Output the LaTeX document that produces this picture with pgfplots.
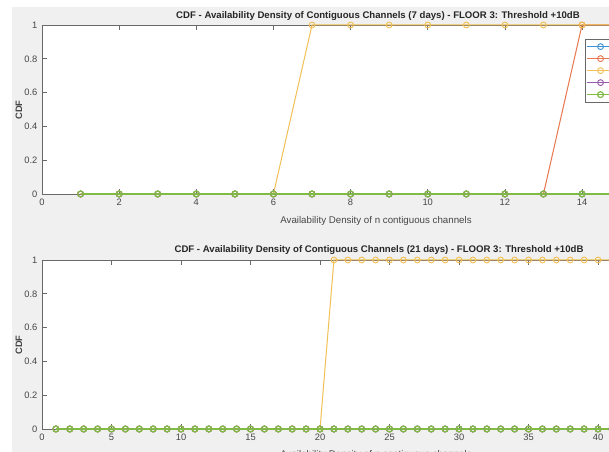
\documentclass[border=0pt]{standalone}
\usepackage{pgfplots}
\usepackage{pgfplotstable}
\pgfplotsset{compat=1.18}
\usepackage{fontspec}
\setmainfont{Liberation Sans}
\definecolor{mblue}{RGB}{60,145,215}
\definecolor{morange}{RGB}{232,118,78}
\definecolor{myellow}{RGB}{242,192,85}
\definecolor{mpurple}{RGB}{150,90,170}
\definecolor{mgreen}{RGB}{128,188,68}
\definecolor{figbg}{RGB}{240,240,240}
\definecolor{axcol}{RGB}{105,105,105}
\definecolor{txtcol}{RGB}{70,70,70}

% 7 days: x, blue, orange, yellow, purple, green
\pgfplotstableread{
x  b o y p g
1  0 0 0 0 0
2  0 0 0 0 0
3  0 0 0 0 0
4  0 0 0 0 0
5  0 0 0 0 0
6  0 0 0 0 0
7  0 0 1 0 0
8  0 0 1 0 0
9  0 0 1 0 0
10 0 0 1 0 0
11 0 0 1 0 0
12 0 0 1 0 0
13 0 0 1 0 0
14 0 1 1 0 0
15 0 1 1 0 0
16 0 1 1 0 0
17 0 1 1 0 0
}\weekA

% 21 days
\pgfplotstableread{
x  b o y p g
1  0 0 0 0 0
2  0 0 0 0 0
3  0 0 0 0 0
4  0 0 0 0 0
5  0 0 0 0 0
6  0 0 0 0 0
7  0 0 0 0 0
8  0 0 0 0 0
9  0 0 0 0 0
10 0 0 0 0 0
11 0 0 0 0 0
12 0 0 0 0 0
13 0 0 0 0 0
14 0 0 0 0 0
15 0 0 0 0 0
16 0 0 0 0 0
17 0 0 0 0 0
18 0 0 0 0 0
19 0 0 0 0 0
20 0 0 0 0 0
21 0 0 1 0 0
22 0 0 1 0 0
23 0 0 1 0 0
24 0 0 1 0 0
25 0 0 1 0 0
26 0 0 1 0 0
27 0 0 1 0 0
28 0 0 1 0 0
29 0 0 1 0 0
30 0 0 1 0 0
31 0 0 1 0 0
32 0 0 1 0 0
33 0 0 1 0 0
34 0 0 1 0 0
35 0 0 1 0 0
36 0 0 1 0 0
37 0 0 1 0 0
38 0 0 1 0 0
39 0 0 1 0 0
40 0 0 1 0 0
41 0 0 1 0 0
42 0 0 1 0 0
43 0 0 1 0 0
44 0 0 1 0 0
45 0 0 1 0 0
46 0 0 1 0 0
47 0 0 1 0 0
48 0 0 1 0 0
}\weekC

\pgfplotsset{
  mstyle/.style={
    scale only axis, width=502.5pt, height=126.75pt, anchor=south west,
    axis background/.style={fill=white},
    axis line style={draw=axcol, line width=0.6pt},
    tick align=inside, major tick length=3.6pt,
    every tick/.style={draw=axcol, line width=0.5pt},
    /pgf/number format/assume math mode=true,
    tick label style={font=\fontsize{7}{8}\selectfont, text=txtcol},
    ymin=0, ymax=1, ytick={0,0.2,0.4,0.6,0.8,1},
    every axis plot/.append style={line width=0.75pt, mark=o, mark size=2.2pt,
      mark options={line width=0.7pt}},
    clip=false,
  },
  gstyle/.style={color=mgreen, line width=0.95pt, mark options={line width=0.9pt}},
}

\begin{document}
\begin{tikzpicture}[x=0.75pt,y=0.75pt]
\useasboundingbox (0,0) rectangle (609,452);
\clip (0,0) rectangle (609,452);
\fill[white] (0,0) rectangle (609,452);
\fill[figbg] (12,0) rectangle (609,445);

\begin{axis}[mstyle, at={(31.5pt,193.5pt)}, xmin=0, xmax=17.37, xtick={0,2,...,16},
  legend style={at={(0.8104,0.917)}, anchor=north west, draw=axcol, fill=white,
    font=\fontsize{6.5}{7}\selectfont, inner sep=1pt,
    nodes={inner sep=1.5pt, text height=5pt, text depth=1pt}},
  legend image code/.code={\draw[mark repeat=2,mark phase=2] plot coordinates {(0pt,0pt)(10pt,0pt)(20pt,0pt)};},
  legend cell align=left]
\addplot[color=mblue] table[x=x,y=b] {\weekA};
\addplot[color=morange] table[x=x,y=o] {\weekA};
\addplot[color=myellow] table[x=x,y=y] {\weekA};
\addplot[color=mpurple] table[x=x,y=p] {\weekA};
\addplot[gstyle] table[x=x,y=g] {\weekA};
\legend{data1,data2,data3,data4,data5}
\end{axis}

\begin{axis}[mstyle, at={(31.5pt,17.25pt)}, xmin=0, xmax=48.2, xtick={0,5,...,45}]
\addplot[color=mblue] table[x=x,y=b] {\weekC};
\addplot[color=morange] table[x=x,y=o] {\weekC};
\addplot[color=myellow] table[x=x,y=y] {\weekC};
\addplot[color=mpurple] table[x=x,y=p] {\weekC};
\addplot[gstyle] table[x=x,y=g] {\weekC};
\end{axis}

\node[font=\bfseries\fontsize{7.2}{8}\selectfont, text=black!85] at (378,436) {CDF - Availability Density of Contiguous Channels (7 days) - FLOOR 3: Threshold +10dB};
\node[font=\bfseries\fontsize{7.2}{8}\selectfont, text=black!85] at (379,202) {CDF - Availability Density of Contiguous Channels (21 days) - FLOOR 3: Threshold +10dB};
\node[font=\fontsize{7.3}{8}\selectfont, text=txtcol] at (376,231) {Availability Density of n contiguous channels};
\node[font=\fontsize{7.3}{8}\selectfont, text=txtcol] at (376,-3) {Availability Density of n contiguous channels};
\node[font=\bfseries\fontsize{7}{8}\selectfont, text=txtcol, rotate=90] at (19,342) {CDF};
\node[font=\bfseries\fontsize{7}{8}\selectfont, text=txtcol, rotate=90] at (19,107) {CDF};
\end{tikzpicture}
\end{document}
